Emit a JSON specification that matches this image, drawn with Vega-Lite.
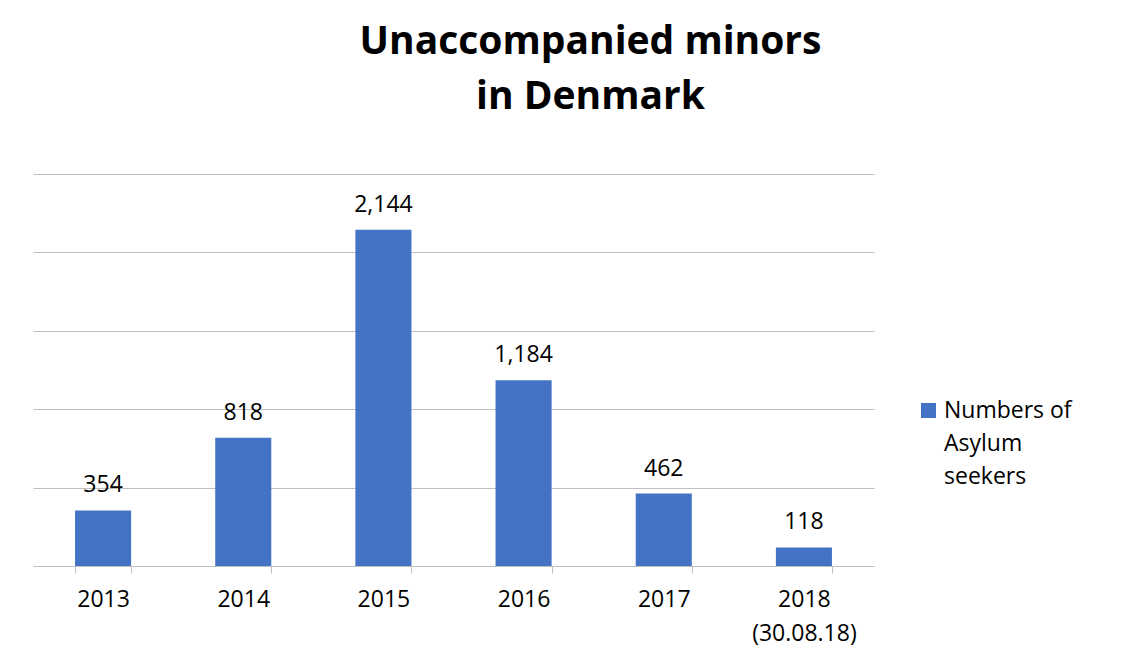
{
  "$schema": "https://vega.github.io/schema/vega-lite/v6.json",
  "width": 841,
  "height": 392,
  "autosize": {"type": "none"},
  "padding": {"left": 33, "top": 174, "right": 258, "bottom": 98},
  "background": "white",
  "title": {
    "text": ["Unaccompanied minors", "in Denmark"],
    "font": "Open Sans",
    "fontSize": 39,
    "fontWeight": "bold",
    "color": "#000000",
    "lineHeight": 55,
    "anchor": "middle",
    "dx": 137,
    "offset": 57
  },
  "data": {
    "values": [
      {"year": "2013", "value": 354, "series": "Numbers of Asylum seekers"},
      {"year": "2014", "value": 818, "series": "Numbers of Asylum seekers"},
      {"year": "2015", "value": 2144, "series": "Numbers of Asylum seekers"},
      {"year": "2016", "value": 1184, "series": "Numbers of Asylum seekers"},
      {"year": "2017", "value": 462, "series": "Numbers of Asylum seekers"},
      {"year": "2018 (30.08.18)", "value": 118, "series": "Numbers of Asylum seekers"}
    ]
  },
  "encoding": {
    "x": {
      "field": "year",
      "type": "nominal",
      "sort": null,
      "scale": {"paddingInner": 0.6, "paddingOuter": 0.3},
      "axis": {
        "title": null,
        "labelAngle": 0,
        "domainColor": "#bfbfbf",
        "ticks": true,
        "tickColor": "#bfbfbf",
        "tickSize": 7,
        "tickWidth": 1,
        "tickBand": "extent",
        "labelFont": "Open Sans",
        "labelFontSize": 23,
        "labelColor": "#000000",
        "labelPadding": 15,
        "labelExpr": "split(datum.label, ' ')",
        "labelLineHeight": 34,
        "grid": false
      }
    },
    "y": {
      "field": "value",
      "type": "quantitative",
      "scale": {"domain": [0, 2500], "nice": false},
      "axis": {
        "title": null,
        "domain": false,
        "ticks": false,
        "labels": false,
        "grid": true,
        "gridColor": "#bfbfbf",
        "values": [0, 500, 1000, 1500, 2000, 2500]
      }
    }
  },
  "layer": [
    {
      "mark": {"type": "bar"},
      "encoding": {
        "color": {
          "field": "series",
          "type": "nominal",
          "scale": {"range": ["#4472C4"]},
          "legend": {
            "title": null,
            "orient": "none",
            "legendX": 884,
            "legendY": 225,
            "padding": 0,
            "symbolType": "square",
            "symbolSize": 225,
            "symbolStrokeWidth": 0,
            "labelFont": "Open Sans",
            "labelFontSize": 23,
            "labelColor": "#000000",
            "labelExpr": "['Numbers of', 'Asylum', 'seekers']",
            "labelBaseline": "middle",
            "labelLimit": 300,
            "encode": {
              "labels": {"update": {"lineHeight": {"value": 33}}}
            }
          }
        }
      }
    },
    {
      "mark": {"type": "text", "baseline": "alphabetic", "dy": -18, "font": "Open Sans", "fontSize": 23, "color": "#000000"},
      "encoding": {
        "text": {"field": "value", "type": "quantitative", "format": ","}
      }
    }
  ],
  "config": {"view": {"stroke": null}}
}
